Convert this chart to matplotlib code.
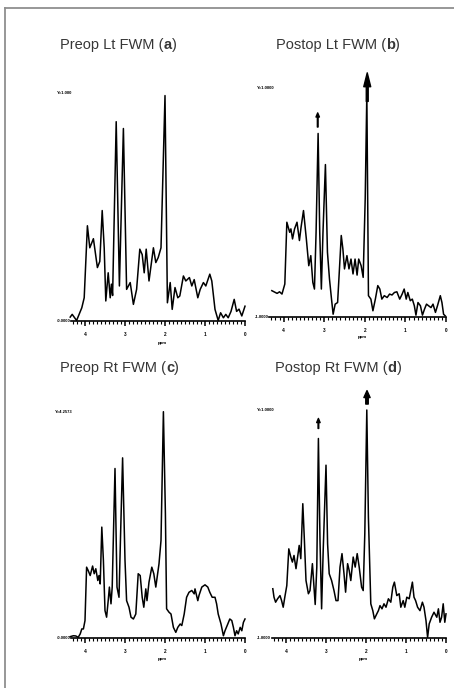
import numpy as np
import matplotlib.pyplot as plt
from matplotlib.lines import Line2D
from matplotlib.ticker import FixedLocator

plt.rcParams['font.family'] = ['Liberation Sans', 'DejaVu Sans']

### Spectra: chemical shift (ppm) and relative intensity
a_ppm = [4.37, 4.32, 4.21, 4.08, 4.02, 3.94, 3.88, 3.79, 3.69, 3.63, 3.57, 3.52, 3.48, 3.42,
         3.37, 3.34, 3.31, 3.22, 3.14, 3.04, 2.96, 2.87, 2.79, 2.71, 2.63, 2.57, 2.52, 2.47,
         2.40, 2.29, 2.23, 2.17, 2.10, 2.00, 1.94, 1.87, 1.82, 1.75, 1.68, 1.63, 1.54, 1.48,
         1.39, 1.33, 1.27, 1.18, 1.12, 1.04, 0.98, 0.88, 0.83, 0.75, 0.67, 0.61, 0.54, 0.48,
         0.42, 0.35, 0.27, 0.21, 0.15, 0.08, 0.00]
a_int = [0.015, 0.027, 0.0, 0.056, 0.10, 0.417, 0.32, 0.36, 0.233, 0.26, 0.484, 0.32, 0.086, 0.21,
         0.10, 0.16, 0.11, 0.875, 0.152, 0.845, 0.137, 0.167, 0.071, 0.137, 0.314, 0.29, 0.21, 0.314,
         0.174, 0.32, 0.255, 0.277, 0.32, 0.99, 0.078, 0.167, 0.049, 0.145, 0.10, 0.108, 0.196, 0.174,
         0.189, 0.152, 0.18, 0.10, 0.137, 0.167, 0.152, 0.204, 0.174, 0.049, 0.0, 0.034, 0.012, 0.027,
         0.012, 0.04, 0.093, 0.04, 0.05, 0.02, 0.063]

b_ppm = [4.29, 4.16, 4.10, 4.04, 3.97, 3.92, 3.85, 3.82, 3.78, 3.73, 3.67, 3.61, 3.57, 3.51,
         3.44, 3.38, 3.33, 3.28, 3.24, 3.20, 3.15, 3.11, 3.07, 3.03, 2.97, 2.92, 2.87, 2.82,
         2.78, 2.73, 2.67, 2.62, 2.58, 2.54, 2.50, 2.44, 2.39, 2.34, 2.29, 2.24, 2.19, 2.15,
         2.09, 2.04, 1.99, 1.95, 1.91, 1.85, 1.80, 1.74, 1.68, 1.63, 1.58, 1.52, 1.45, 1.39,
         1.33, 1.27, 1.21, 1.14, 1.08, 1.03, 0.98, 0.94, 0.88, 0.83, 0.78, 0.74, 0.69, 0.63,
         0.58, 0.53, 0.48, 0.43, 0.37, 0.32, 0.26, 0.21, 0.14, 0.10, 0.06, 0.02]
b_int = [0.113, 0.101, 0.108, 0.098, 0.142, 0.412, 0.368, 0.383, 0.339, 0.383, 0.412, 0.332, 0.390, 0.463,
         0.339, 0.222, 0.266, 0.149, 0.120, 0.368, 0.800, 0.368, 0.120, 0.368, 0.664, 0.281, 0.164, 0.076,
         0.010, 0.054, 0.061, 0.222, 0.354, 0.295, 0.208, 0.266, 0.208, 0.251, 0.186, 0.251, 0.181, 0.251,
         0.222, 0.171, 0.515, 0.975, 0.091, 0.076, 0.025, 0.076, 0.135, 0.120, 0.076, 0.091, 0.083, 0.098,
         0.094, 0.105, 0.108, 0.076, 0.098, 0.120, 0.076, 0.105, 0.069, 0.076, 0.047, 0.006, 0.061, 0.047,
         0.006, 0.032, 0.054, 0.047, 0.039, 0.054, 0.018, 0.047, 0.091, 0.061, 0.010, 0.003]

c_ppm = [4.37, 4.29, 4.23, 4.17, 4.12, 4.08, 4.04, 4.00, 3.96, 3.92, 3.87, 3.81, 3.77, 3.73,
         3.68, 3.65, 3.62, 3.58, 3.54, 3.50, 3.46, 3.42, 3.39, 3.35, 3.32, 3.25, 3.20, 3.15,
         3.11, 3.06, 3.00, 2.96, 2.90, 2.85, 2.79, 2.73, 2.67, 2.62, 2.57, 2.53, 2.48, 2.45,
         2.40, 2.33, 2.28, 2.23, 2.15, 2.10, 2.04, 1.99, 1.96, 1.90, 1.85, 1.79, 1.73, 1.68,
         1.62, 1.58, 1.52, 1.46, 1.40, 1.33, 1.27, 1.25, 1.18, 1.15, 1.08, 1.00, 0.93, 0.88,
         0.82, 0.75, 0.71, 0.67, 0.60, 0.54, 0.50, 0.43, 0.38, 0.33, 0.29, 0.25, 0.21, 0.17,
         0.12, 0.08, 0.04, 0.00]
c_int = [0.006, 0.010, 0.009, 0.003, 0.018, 0.040, 0.040, 0.077, 0.313, 0.298, 0.276, 0.318, 0.284, 0.306,
         0.254, 0.276, 0.239, 0.490, 0.343, 0.121, 0.092, 0.165, 0.225, 0.151, 0.225, 0.749, 0.225, 0.180,
         0.461, 0.796, 0.343, 0.165, 0.136, 0.092, 0.084, 0.106, 0.284, 0.276, 0.180, 0.136, 0.217, 0.165,
         0.247, 0.313, 0.284, 0.225, 0.328, 0.431, 1.0, 0.55, 0.129, 0.114, 0.106, 0.047, 0.025, 0.047,
         0.062, 0.055, 0.106, 0.180, 0.202, 0.210, 0.195, 0.217, 0.165, 0.188, 0.225, 0.235, 0.225, 0.202,
         0.180, 0.180, 0.151, 0.106, 0.062, 0.010, 0.032, 0.062, 0.084, 0.077, 0.047, 0.010, 0.032, 0.018,
         0.047, 0.032, 0.069, 0.084]

d_ppm = [4.33, 4.30, 4.26, 4.21, 4.15, 4.11, 4.07, 4.03, 3.98, 3.93, 3.88, 3.84, 3.80, 3.75,
         3.71, 3.67, 3.63, 3.58, 3.54, 3.50, 3.44, 3.40, 3.34, 3.30, 3.27, 3.23, 3.19, 3.15,
         3.11, 3.07, 3.00, 2.96, 2.92, 2.86, 2.80, 2.75, 2.70, 2.65, 2.60, 2.55, 2.51, 2.46,
         2.42, 2.38, 2.32, 2.27, 2.22, 2.17, 2.11, 2.07, 2.03, 1.98, 1.94, 1.88, 1.83, 1.79,
         1.73, 1.69, 1.65, 1.60, 1.55, 1.50, 1.44, 1.38, 1.33, 1.29, 1.23, 1.17, 1.13, 1.07,
         1.03, 0.98, 0.92, 0.84, 0.80, 0.76, 0.71, 0.65, 0.59, 0.55, 0.50, 0.46, 0.42, 0.36,
         0.30, 0.23, 0.19, 0.15, 0.11, 0.07, 0.03, 0.00]
d_int = [0.216, 0.179, 0.157, 0.172, 0.186, 0.164, 0.135, 0.179, 0.230, 0.391, 0.355, 0.333, 0.362, 0.304,
         0.355, 0.406, 0.348, 0.589, 0.428, 0.252, 0.194, 0.208, 0.326, 0.223, 0.147, 0.311, 0.875, 0.428,
         0.128, 0.384, 0.758, 0.413, 0.282, 0.252, 0.208, 0.164, 0.164, 0.311, 0.370, 0.282, 0.201, 0.326,
         0.296, 0.252, 0.355, 0.311, 0.370, 0.311, 0.223, 0.208, 0.457, 1.0, 0.531, 0.150, 0.120, 0.084,
         0.106, 0.120, 0.142, 0.128, 0.150, 0.135, 0.172, 0.157, 0.223, 0.245, 0.186, 0.194, 0.135, 0.164,
         0.135, 0.179, 0.172, 0.245, 0.179, 0.164, 0.135, 0.120, 0.157, 0.135, 0.076, 0.003, 0.062, 0.091,
         0.113, 0.091, 0.128, 0.069, 0.091, 0.150, 0.069, 0.106]

titles = [('Preop Lt FWM (', 'a'), ('Postop Lt FWM (', 'b'),
          ('Preop Rt FWM (', 'c'), ('Postop Rt FWM (', 'd')]
top_labels = ['Y=1.000', 'Y=1.0000', 'Y=4.2573', 'Y=1.0000']
base_labels = ['-0.0000', '-1.0000', '-0.0000', '-1.0000']
tick_vals = [0, 1, 2, 3, 4]

W, H = 454, 688
fig = plt.figure(figsize=(W / 100, H / 100), dpi=100)
txt_col = '#363636'

### frame (top and left edges only)
fig.add_artist(Line2D([5 / W, 1], [1 - 8 / H, 1 - 8 / H], color='#8f8f8f', lw=1.3))
fig.add_artist(Line2D([5 / W, 5 / W], [0, 1 - 8 / H], color='#8f8f8f', lw=1.3))


def make_axes(box, x0_px, ppm_px, base_px, top_px):
    # box is (left, top, right, bottom) in pixels
    l, t, r, b = box
    ax = fig.add_axes([l / W, 1 - b / H, (r - l) / W, (b - t) / H])
    ax.set_xlim((x0_px - l) / ppm_px, (x0_px - r) / ppm_px)
    unit = base_px - top_px
    ax.set_ylim((base_px - b) / unit, (base_px - t) / unit)
    for s in ['left', 'right', 'top']:
        ax.spines[s].set_visible(False)
    ax.spines['bottom'].set_position(('data', 0))
    ax.spines['bottom'].set_bounds(0, 4.36)
    ax.spines['bottom'].set_linewidth(1.2)
    ax.set_yticks([])
    ax.set_xticks(tick_vals)
    ax.set_xticklabels([str(v) for v in tick_vals])
    ax.xaxis.set_minor_locator(FixedLocator(np.arange(0, 4.31, 0.1)))
    ax.tick_params(axis='x', which='major', length=3.5, width=1.1, labelsize=3.4, pad=4.5)
    ax.tick_params(axis='x', which='minor', length=2.2, width=0.8)
    for lbl in ax.get_xticklabels():
        lbl.set_fontweight('bold')
    ax.patch.set_visible(False)
    return ax


### calibrations of each scanned panel (pixels)
panels = [
    dict(box=(40, 20, 250, 352), x0=245, s=40.0, base=320.5, top=93.3),
    dict(box=(250, 20, 454, 352), x0=446, s=40.6, base=316.5, top=87.7),
    dict(box=(40, 352, 250, 684), x0=245, s=40.0, base=638.0, top=411.7),
    dict(box=(250, 352, 454, 684), x0=446, s=40.0, base=638.0, top=410.0),
]
spectra = [(a_ppm, a_int), (b_ppm, b_int), (c_ppm, c_int), (d_ppm, d_int)]
label_x = [4.70, 4.66, 4.75, 4.72]
ppm_lbl_y = [-0.1, -0.088, -0.092, -0.092]

axes = []
for i, p in enumerate(panels):
    ax = make_axes(p['box'], p['x0'], p['s'], p['base'], p['top'])
    x, y = spectra[i]
    ax.plot(x, y, color='k', lw=1.1, solid_joinstyle='round')
    ax.text(label_x[i], 1.0, top_labels[i], fontsize=3.0, fontweight='bold', ha='left', va='center')
    ax.text(4.37, 0.0, base_labels[i], fontsize=3.0, fontweight='bold', ha='right', va='center')
    ax.text(2.07, ppm_lbl_y[i], 'ppm', fontsize=3.2, fontweight='bold', ha='center', va='center')
    axes.append(ax)

### arrows on the postop spectra
axes[1].annotate('', xy=(1.94, 1.065), xytext=(1.94, 0.94),
                 arrowprops=dict(facecolor='k', edgecolor='k', width=1.4, headwidth=5, headlength=10, shrink=0))
axes[1].annotate('', xy=(3.16, 0.89), xytext=(3.16, 0.828),
                 arrowprops=dict(facecolor='k', edgecolor='k', width=0.5, headwidth=2.5, headlength=3, shrink=0))
axes[3].annotate('', xy=(1.975, 1.085), xytext=(1.975, 1.026),
                 arrowprops=dict(facecolor='k', edgecolor='k', width=1.8, headwidth=4.5, headlength=5, shrink=0))
axes[3].annotate('', xy=(3.19, 0.963), xytext=(3.19, 0.919),
                 arrowprops=dict(facecolor='k', edgecolor='k', width=0.5, headwidth=2.5, headlength=3, shrink=0))

### titles with bold panel letter
title_pos = [(60, 45), (276, 45), (60, 368), (275, 368)]
fs = 10.5
for (x, y), (pre, letter) in zip(title_pos, titles):
    t1 = fig.text(x / W, 1 - y / H, pre, fontsize=fs, color=txt_col, ha='left', va='center')
    t2 = plt.annotate(letter, xy=(1, 0), xycoords=t1, fontsize=fs, color=txt_col,
                      fontweight='bold', ha='left', va='bottom')
    plt.annotate(')', xy=(1, 0), xycoords=t2, fontsize=fs, color=txt_col, ha='left', va='bottom')

fig.savefig('out.png', dpi=100)
